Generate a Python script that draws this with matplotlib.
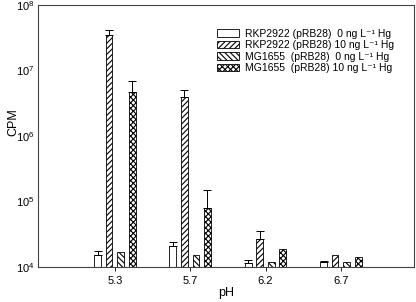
import matplotlib
matplotlib.use("Agg")
import matplotlib.pyplot as plt
import numpy as np

plt.rcParams['font.family'] = ['Liberation Sans', 'DejaVu Sans']
plt.rcParams['hatch.linewidth'] = 0.8

categories = ["5.3", "5.7", "6.2", "6.7"]
series_labels = [
    "RKP2922 (pRB28)  0 ng L\u207b\u00b9 Hg",
    "RKP2922 (pRB28) 10 ng L\u207b\u00b9 Hg",
    "MG1655  (pRB28)  0 ng L\u207b\u00b9 Hg",
    "MG1655  (pRB28) 10 ng L\u207b\u00b9 Hg",
]
rkp_0 = [1.52e4, 2.09e4, 1.15e4, 1.20e4]
rkp_10 = [3.5e7, 3.94e6, 2.65e4, 1.54e4]
mg_0 = [1.71e4, 1.52e4, 1.18e4, 1.18e4]
mg_10 = [4.7e6, 7.95e4, 1.86e4, 1.42e4]

rkp_0_err = [0.25e4, 0.29e4, 0.13e4, 0.03e4]
rkp_10_err = [0.7e7, 1.06e6, 0.93e4, 0.0]
mg_0_err = [0.0, 0.0, 0.0, 0.0]
mg_10_err = [2.28e6, 7.0e4, 0.0, 0.0]

values = [rkp_0, rkp_10, mg_0, mg_10]
errors = [rkp_0_err, rkp_10_err, mg_0_err, mg_10_err]
hatches = [None, '//////', '\\\\\\\\\\\\', 'xxxxxx']

fig = plt.figure(figsize=(4.16, 3.02), dpi=100)
ax = fig.add_axes([0.0913, 0.1159, 0.9037, 0.8675])

x = np.arange(len(categories))
step = 0.153
width = 0.09
for i, (vals, errs, h, lab) in enumerate(zip(values, errors, hatches, series_labels)):
    pos = x + (i - 1.5) * step
    ax.bar(pos, np.array(vals) - 1e4, bottom=1e4, width=width, color='white',
           edgecolor='black', linewidth=0.6, hatch=h, label=lab, zorder=2)
    errs = np.array(errs)
    mask = errs > 0
    if mask.any():
        ax.errorbar(pos[mask], np.array(vals)[mask],
                    yerr=[np.zeros(mask.sum()), errs[mask]],
                    fmt='none', ecolor='black', elinewidth=0.7, capsize=3,
                    capthick=0.7, zorder=3)

ax.set_yscale('log')
ax.set_ylim(1e4, 1e8)
ax.set_xlim(-1.02, 3.97)
ax.set_xticks(x)
ax.set_xticklabels(categories)
ax.yaxis.set_minor_locator(matplotlib.ticker.NullLocator())
ax.tick_params(axis='both', labelsize=8, length=3, width=0.6, direction='out')
ax.tick_params(axis='y', length=0, pad=2.5)
ax.set_xlabel('pH', fontsize=9)
ax.set_ylabel('CPM', fontsize=9)
ax.yaxis.set_label_coords(-0.05, 0.553)
ax.xaxis.set_label_coords(0.5, -0.075)
for s in ax.spines.values():
    s.set_linewidth(0.8)
    s.set_color('#444444')

leg = ax.legend(loc='upper left', bbox_to_anchor=(0.475, 0.91), frameon=False,
                fontsize=7.5, handlelength=2.2, handleheight=0.7,
                handletextpad=0.5, labelspacing=0.15, borderpad=0,
                borderaxespad=0)

fig.savefig('out.png', dpi=100)
